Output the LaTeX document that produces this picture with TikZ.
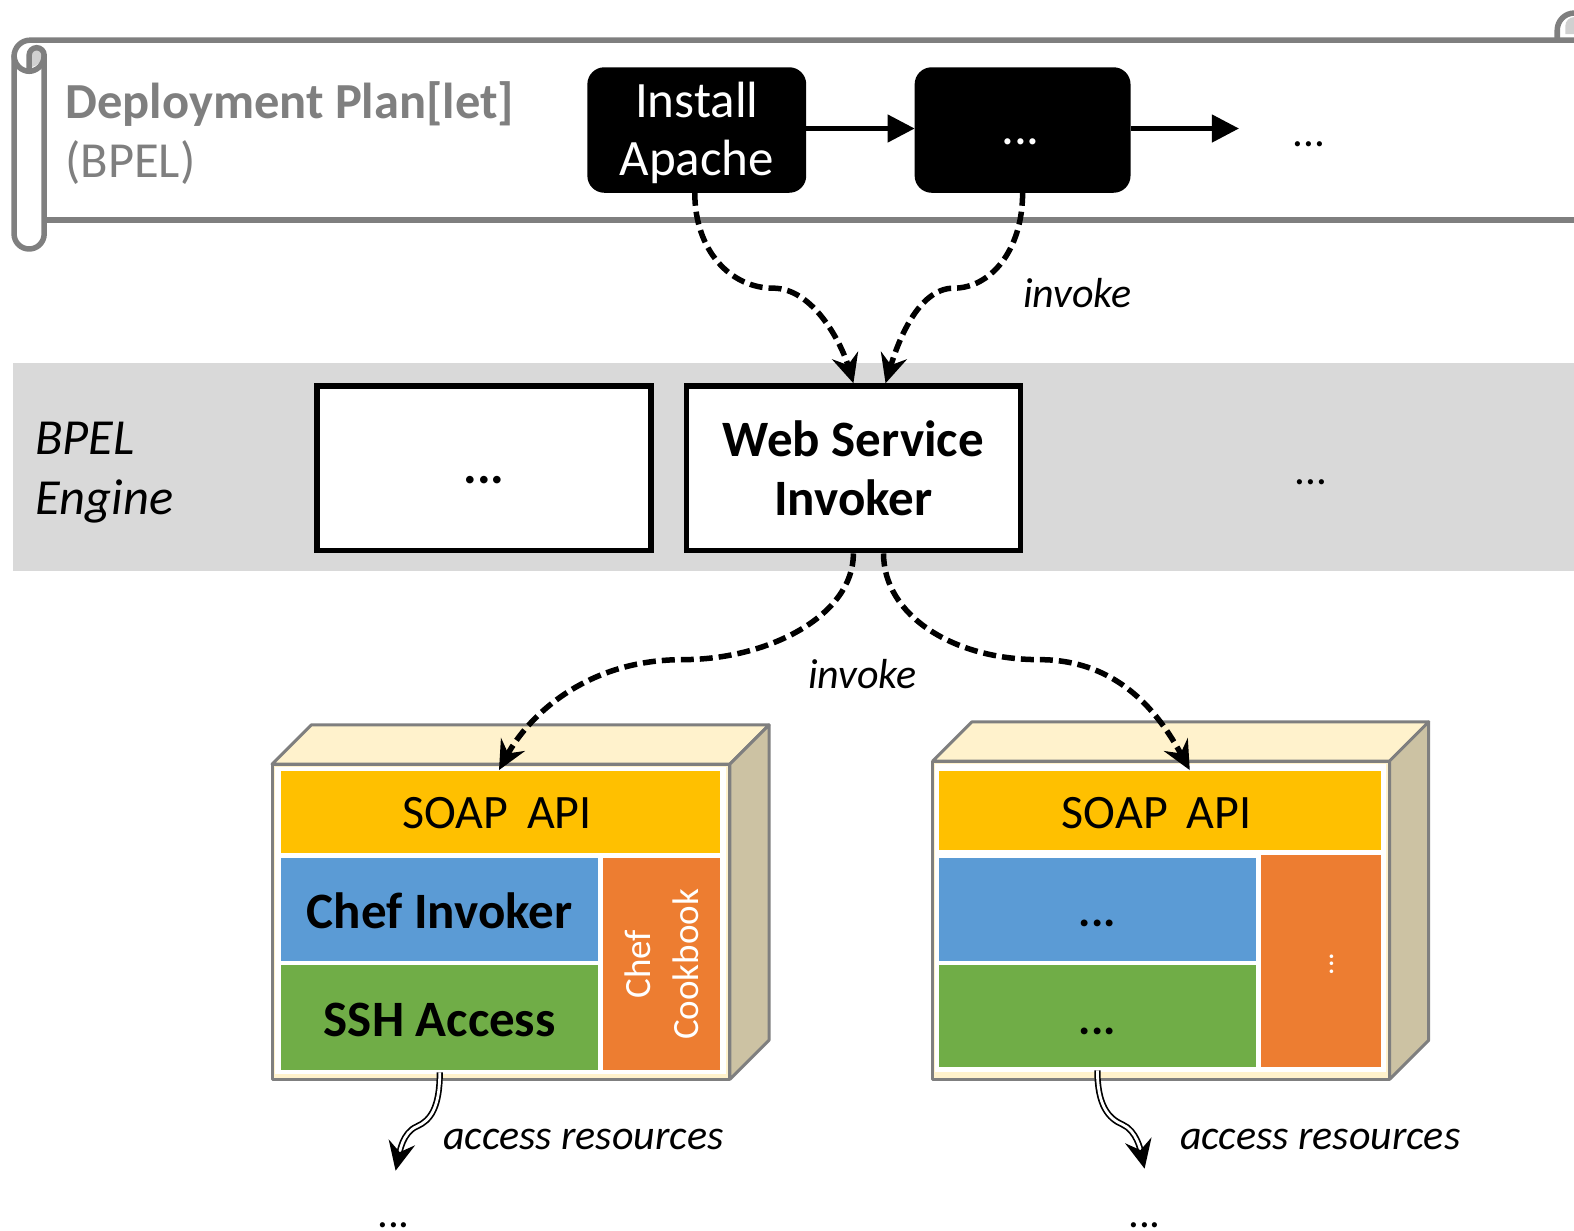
\documentclass[tikz,border=0pt]{standalone}
\usepackage{fontspec}
\setmainfont{Carlito}
\usetikzlibrary{arrows.meta,calc}
\definecolor{rollgray}{HTML}{7F7F7F}
\definecolor{curlgray}{HTML}{D0D0D0}
\definecolor{bandgray}{HTML}{D9D9D9}
\definecolor{boxtop}{HTML}{FFF2CC}
\definecolor{boxside}{HTML}{CCC2A3}
\definecolor{soapcol}{HTML}{FFC000}
\definecolor{bluecol}{HTML}{5B9BD5}
\definecolor{greencol}{HTML}{70AD47}
\definecolor{orangecol}{HTML}{ED7D31}
\newcommand{\bigfs}{\fontsize{51}{58.5}\selectfont}
\newcommand{\planfs}{\fontsize{50.5}{58.5}\selectfont}
\newcommand{\soapfs}{\fontsize{48}{58}\selectfont}
\newcommand{\dotfs}{\fontsize{46}{58}\selectfont}
\newcommand{\thindots}{\fontsize{43}{50}\selectfont}
\newcommand{\midfs}{\fontsize{42}{50}\selectfont}
\newcommand{\baseat}[2]{\smash{\raisebox{-#1pt}{#2}}}
\tikzset{
  span/.style n args={4}{at={({(#1+#3)/2},{(#2+#4)/2})}, minimum width={(#3-#1)*1.004pt}, minimum height={(#4-#2)*1.004pt}},
  area/.style={inner sep=0pt, outer sep=0pt, align=center, text=black},
  blackbox/.style={area, fill=black, rounded corners=17pt, text=white, font=\bigfs},
  whitebox/.style={area, fill=white, draw=black, line width=5.5pt, font=\bigfs, outer sep=2.75pt},
  boxface/.style={draw=rollgray, line width=3pt, line join=round},
  flow/.style={line width=4.5pt, -{Triangle[length=27pt,width=27pt]}},
  dashflow/.style={line width=5.5pt, dash pattern=on 13pt off 6pt, -{Stealth[length=29pt,width=27pt,inset=10pt]}},
  resflow/.style={line width=1.7pt, double=white, double distance=2.8pt, -{Stealth[length=29pt,width=27pt,inset=10pt]}},
  lab/.style={inner sep=0pt, font=\midfs\itshape},
}
\begin{document}
\begin{tikzpicture}[x=1.004pt,y=-1.004pt]
\useasboundingbox (0,0) rectangle (1567.7,1226);
\clip (0,0) rectangle (1567.7,1226);
% scroll
\fill[curlgray] (31,51) .. controls (36,46) and (42,50) .. (42,57) .. controls (41,62) and (36,66) .. (31,67) -- cycle;
\draw[rollgray, line width=5.5pt, line join=round]
  (1568,40) -- (30,40) arc[start angle=270,end angle=180,radius=16] -- (14,233) arc[start angle=180,end angle=0,radius=15] -- (44,55)
  arc[start angle=0,end angle=-180,radius=7.5] -- (29,70);
\draw[rollgray, line width=5.5pt] (14,55) .. controls (14,65) and (22,71) .. (29,71) .. controls (36,71) and (44,65) .. (44,55);
\draw[rollgray, line width=5.5pt] (44,219) -- (1568,219);
\fill[curlgray] (1559,34) -- (1559,26) arc[start angle=180,end angle=270,radius=9] -- (1568,34) -- cycle;
\draw[rollgray, line width=5.5pt] (1551,40) -- (1551,30) arc[start angle=180,end angle=270,radius=17];
\node[inner sep=0pt, anchor=base west, text=rollgray, font=\planfs\bfseries] (plan) at (65,118) {Deployment Plan[let]};
\node[inner sep=0pt, anchor=base west, text=rollgray, font=\planfs] (bpel) at (65,177) {(BPEL)};
\node[blackbox, span={585}{67}{803}{192}] (inst) {\rule{0pt}{41pt}Install\\Apache};
\node[blackbox, span={911}{67}{1126}{192}] (more) {\baseat{14}{\hspace*{-4pt}...}};
\node[inner sep=0pt, font=\thindots, anchor=base] (topdots) at (1304,146) {...};
% engine
\fill[bandgray] (13,362) rectangle (1568,569);
\node[inner sep=0pt, anchor=base west, font=\planfs\itshape] (engone) at (35,453) {BPEL};
\node[inner sep=0pt, anchor=base west, font=\planfs\itshape] (engtwo) at (35,512) {Engine};
\node[whitebox, span={315.5}{384.5}{648.5}{548.5}] (other) {\bfseries\baseat{15.5}{...}};
\node[whitebox, span={683.5}{384.5}{1016.5}{548.5}] (wsi) {\bfseries Web Service\\\bfseries Invoker};
\node[inner sep=0pt, font=\thindots, anchor=base] (engdots) at (1306,483) {...};
% left container
\filldraw[boxface, fill=boxtop] (271,761) -- (310,722) -- (766,722) -- (727,761) -- cycle;
\filldraw[boxface, fill=boxside] (727,761) -- (766,722) -- (766,1036) -- (727,1075) -- cycle;
\filldraw[boxface, fill=boxtop] (271,761) rectangle (727,1075);
\fill[white] (274,764) rectangle (723,1070);
\node[area, fill=soapcol, font=\soapfs, span={280}{768}{717}{850}] (soapl) {\baseat{16}{\hspace*{-7pt}SOAP\, API}};
\node[area, fill=bluecol, font=\bigfs\bfseries, span={280}{855}{596}{957}] (chef) {\baseat{19}{Chef Invoker}};
\node[area, fill=greencol, font=\bigfs\bfseries, span={280}{961}{596}{1066}] (ssh) {\baseat{19}{SSH Access}};
\node[area, fill=orangecol, text=white, font=\fontsize{37}{46}\selectfont, span={601}{855}{717}{1066}] (cook) {\hspace*{8pt}\rotatebox{90}{\begin{tabular}{@{}c@{}}Chef\\[2pt]Cookbook\end{tabular}}};
% right container
\filldraw[boxface, fill=boxtop] (929,758) -- (968,719) -- (1423,719) -- (1384,758) -- cycle;
\filldraw[boxface, fill=boxside] (1384,758) -- (1423,719) -- (1423,1036) -- (1384,1075) -- cycle;
\filldraw[boxface, fill=boxtop] (929,758) rectangle (1384,1075);
\fill[white] (931,761) rectangle (1380,1068);
\node[area, fill=soapcol, font=\soapfs, span={935}{768}{1375}{847}] (soapr) {\baseat{17.5}{\hspace*{-6pt}SOAP\, API}};
\node[area, fill=bluecol, font=\dotfs\bfseries, span={935}{855}{1251}{957}] (bluer) {\baseat{17}{...}};
\node[area, fill=greencol, font=\dotfs\bfseries, span={935}{961}{1251}{1063}] (greenr) {\baseat{18}{...}};
\node[area, fill=orangecol, span={1256}{852}{1375}{1063}] (oranger) {};
\node[inner sep=0pt, text=white, rotate=90, font=\fontsize{30}{36}\selectfont] (orangedots) at (1327,960) {...};
% connectors
\draw[flow] (inst.east |- 0,128) -- (more.west |- 0,128);
\coordinate (stub) at (1234,128);
\draw[flow] (more.east |- 0,128) -- (stub);
\coordinate (ma) at (770,287);
\coordinate (mb) at (950,287);
\coordinate (mc) at (680,657);
\coordinate (md) at (1035,657);
\coordinate (is) at ($(inst.south)+(-2,0)$);
\coordinate (wn) at ($(wsi.north)+(32,0)$);
\coordinate (ws) at ($(wsi.south)+(30,0)$);
\coordinate (sl) at (497,767);
\coordinate (sr) at (1185,767);
\draw[dashflow] (is) .. controls +(0,58) and +(-42,0) .. (ma) .. controls +(40,0) and +(-12,-40) .. (wsi.north);
\draw[dashflow] (more.south) .. controls +(0,58) and +(36,0) .. (mb) .. controls +(-36,0) and +(12,-40) .. (wn);
\draw[dashflow] (wsi.south) .. controls +(0,62) and +(85,0) .. (mc) .. controls +(-95,0) and +(30,-55) .. (sl);
\draw[dashflow] (ws) .. controls +(0,62) and +(-85,0) .. (md) .. controls +(80,0) and +(-30,-55) .. (sr);
\node[lab] (invtop) at (1073,292) {invoke};
\node[lab] (invmid) at (859,671) {invoke};
\coordinate (rl) at (438,1068);
\coordinate (rlm) at (415,1122);
\coordinate (rle) at (394,1166);
\coordinate (rr) at (1093,1066);
\coordinate (rrm) at (1118,1120);
\coordinate (rre) at (1140,1164);
\node[inner sep=0pt, font=\thindots, anchor=base] (dotl) at (392,1223) {...};
\node[inner sep=0pt, font=\thindots, anchor=base] (dotr) at (1140,1223) {...};
\draw[resflow] (rl) .. controls +(0,35) and +(14,-6) .. (rlm) .. controls +(-14,6) and +(4,-18) .. (rle);
\draw[resflow] (rr) .. controls +(0,35) and +(-14,-6) .. (rrm) .. controls +(14,6) and +(-4,-18) .. (rre);
\node[lab] (accl) at (581,1135) {access resources};
\node[lab] (accr) at (1315,1135) {access resources};
\end{tikzpicture}
\end{document}
